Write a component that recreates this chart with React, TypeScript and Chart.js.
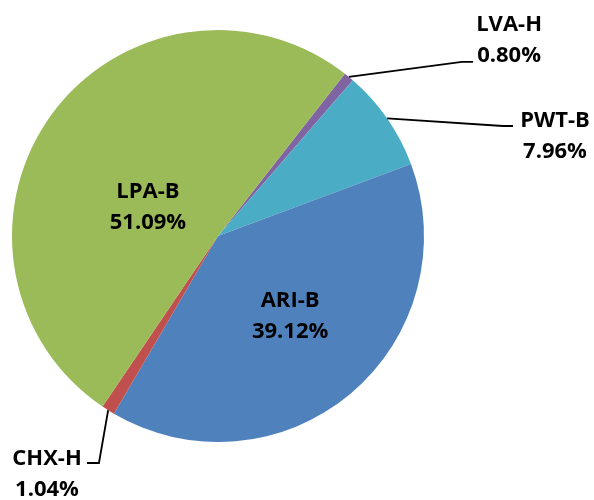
import React, { useEffect, useRef } from "react";
import { Chart, registerables } from "chart.js";

Chart.register(...registerables);

const categories = ["LVA-H", "PWT-B", "ARI-B", "CHX-H", "LPA-B"];
const shares = [0.8, 7.96, 39.12, 1.04, 51.09];
const sliceColors = ["#8064A2", "#4BACC6", "#4F81BD", "#C0504D", "#9BBB59"];

// label placement relative to pie centre, in units of the radius
type Place = {
  inside: boolean;
  cx: number; // text centre x
  b1: number; // baseline of first line
  ex?: number; // elbow x
  ey?: number; // elbow y
  hx?: number; // end of horizontal leader
};
const placement: Record<string, Place> = {
  "LVA-H": { inside: false, cx: 1.413, b1: -0.995, ex: 1.184, ey: -0.845, hx: 1.238 },
  "PWT-B": { inside: false, cx: 1.636, b1: -0.529, ex: 1.383, ey: -0.534, hx: 1.432 },
  "ARI-B": { inside: true, cx: 0.35, b1: 0.345 },
  "CHX-H": { inside: false, cx: -0.83, b1: 1.112, ex: -0.578, ey: 1.102, hx: -0.636 },
  "LPA-B": { inside: true, cx: -0.34, b1: -0.184 },
};

const labelPlugin = {
  id: "pieLabels",
  afterDraw(chart: any) {
    const ctx = chart.ctx as CanvasRenderingContext2D;
    const meta = chart.getDatasetMeta(0);
    ctx.save();
    ctx.font = "bold 22px 'Open Sans'";
    ctx.fillStyle = "#000";
    ctx.textAlign = "center";
    ctx.textBaseline = "alphabetic";
    meta.data.forEach((arc: any, i: number) => {
      const name = categories[i];
      const p = placement[name];
      const r = arc.outerRadius;
      const x0 = arc.x;
      const y0 = arc.y;
      const pct = shares[i].toFixed(2) + "%";
      const lineH = r * 0.15;
      if (!p.inside) {
        const mid = (arc.startAngle + arc.endAngle) / 2;
        const sx = x0 + Math.cos(mid) * r;
        const sy = y0 + Math.sin(mid) * r;
        ctx.beginPath();
        ctx.strokeStyle = "#000";
        ctx.lineWidth = 1.8;
        ctx.moveTo(sx, sy);
        ctx.lineTo(x0 + p.ex! * r, y0 + p.ey! * r);
        ctx.lineTo(x0 + p.hx! * r, y0 + p.ey! * r);
        ctx.stroke();
      }
      const tx = x0 + p.cx * r;
      const ty = y0 + p.b1 * r;
      ctx.fillText(name, tx, ty);
      ctx.fillText(pct, tx, ty + lineH);
    });
    ctx.restore();
  },
};

export default function App() {
  const ref = useRef<HTMLCanvasElement | null>(null);
  useEffect(() => {
    if (!ref.current) return;
    const chart = new Chart(ref.current, {
      type: "pie",
      data: {
        labels: categories,
        datasets: [
          {
            data: shares,
            backgroundColor: sliceColors,
            borderWidth: 0,
          },
        ],
      },
      options: {
        responsive: false,
        animation: false,
        rotation: 38,
        layout: { padding: { left: 12, top: 30, right: 170, bottom: 58 } },
        plugins: {
          legend: { display: false },
          tooltip: { enabled: false },
        },
      },
      plugins: [labelPlugin],
    });
    return () => chart.destroy();
  }, []);
  return (
    <div style={{ position: "absolute", left: 0, top: 0, width: 594, height: 500, background: "#fff" }}>
      <canvas ref={ref} width={594} height={500} />
    </div>
  );
}
